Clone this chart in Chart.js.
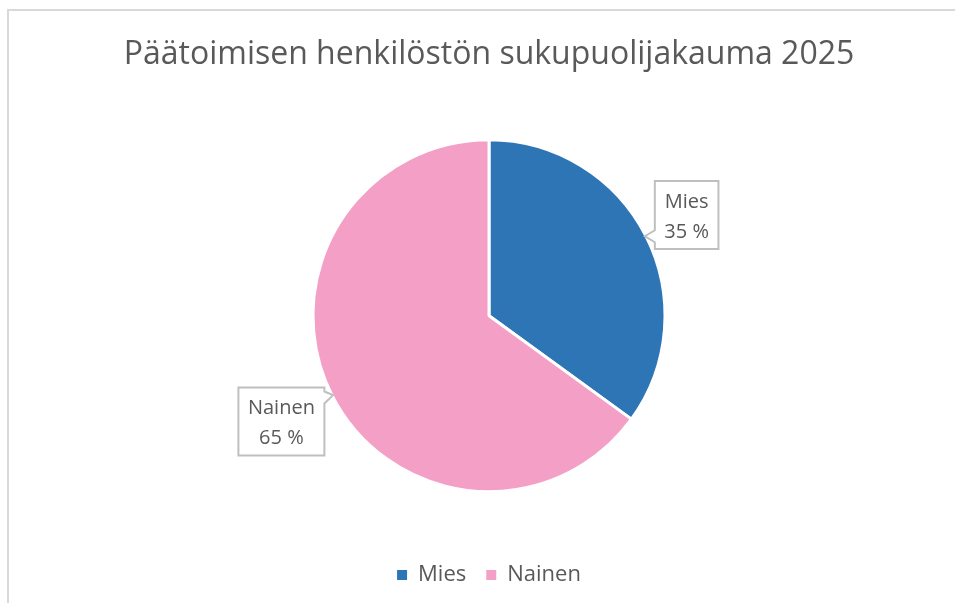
<!DOCTYPE html>
<html lang="fi">
<head>
<meta charset="UTF-8">
<title>Päätoimisen henkilöstön sukupuolijakauma 2025</title>
<script src="https://cdn.jsdelivr.net/npm/chart.js"></script>
<style>
    body { margin: 0; background: #fff; overflow: hidden; }
    .frame {
        position: absolute; left: 7px; top: 9px; width: 970px; height: 620px;
        border-left: 2px solid #d9d9d9; border-top: 2px solid #d9d9d9;
    }
    .wrap { position: absolute; left: 0; top: 0; width: 955px; height: 603px; }
</style>
</head>
<body>
<div class="frame"></div>
<div class="wrap"><canvas id="pie"></canvas></div>
<script>
const titleText = 'Päätoimisen henkilöstön sukupuolijakauma 2025';
const categories = ['Mies', 'Nainen'];
const shares = [35, 65];
const sliceColors = ['#2E75B6', '#F49FC6'];

const FONT = "'Open Sans', 'Noto Sans', sans-serif";
const GREY = '#595959';

// callout boxes like Excel data labels
const calloutPlugin = {
    id: 'callouts',
    afterDatasetsDraw(chart) {
        const ctx = chart.ctx;
        const total = shares.reduce((a, b) => a + b, 0);
        chart.getDatasetMeta(0).data.forEach((arc, i) => {
            const p = arc.getProps(['x', 'y', 'startAngle', 'endAngle', 'outerRadius'], true);
            const mid = (p.startAngle + p.endAngle) / 2;
            const lines = [categories[i], Math.round(shares[i] / total * 100) + ' %'];
            ctx.save();
            ctx.font = '20px ' + FONT;
            const w = Math.max(...lines.map(t => ctx.measureText(t).width)) + 19;
            const h = 68;
            const dist = p.outerRadius + 14 + w / 2;
            const cx = p.x + Math.cos(mid) * dist;
            const cy = p.y + Math.sin(mid) * dist;
            const left = cx - w / 2, top = cy - h / 2;
            const tipX = p.x + Math.cos(mid) * (p.outerRadius - 1);
            const tipY = p.y + Math.sin(mid) * (p.outerRadius - 1);
            const onLeft = tipX < left;
            const by = Math.min(Math.max(tipY, top + 10), top + h - 10);
            ctx.beginPath();
            ctx.moveTo(left, top);
            ctx.lineTo(left + w, top);
            if (!onLeft) {
                ctx.lineTo(left + w, by - 6);
                ctx.lineTo(tipX, tipY);
                ctx.lineTo(left + w, by + 6);
            }
            ctx.lineTo(left + w, top + h);
            ctx.lineTo(left, top + h);
            if (onLeft) {
                ctx.lineTo(left, by + 6);
                ctx.lineTo(tipX, tipY);
                ctx.lineTo(left, by - 6);
            }
            ctx.closePath();
            ctx.fillStyle = '#fff';
            ctx.fill();
            ctx.strokeStyle = '#bfbfbf';
            ctx.lineWidth = 2;
            ctx.stroke();
            ctx.fillStyle = GREY;
            ctx.textAlign = 'center';
            ctx.textBaseline = 'middle';
            ctx.fillText(lines[0], cx, cy - 13);
            ctx.fillText(lines[1], cx, cy + 17);
            ctx.restore();
        });
    }
};

new Chart(document.getElementById('pie'), {
    type: 'pie',
    data: {
        labels: categories,
        datasets: [{
            data: shares,
            backgroundColor: sliceColors,
            borderColor: '#fff',
            borderWidth: 3
        }]
    },
    options: {
        responsive: true,
        maintainAspectRatio: false,
        animation: false,
        radius: 176,
        layout: { padding: { left: 23, top: 0, right: 0, bottom: 7 } },
        plugins: {
            title: {
                display: true,
                text: titleText,
                color: GREY,
                font: { family: FONT, size: 32, weight: 'normal' },
                padding: { top: 36, bottom: 13 }
            },
            legend: {
                position: 'bottom',
                labels: {
                    color: GREY,
                    font: { family: FONT, size: 22 },
                    boxWidth: 10,
                    boxHeight: 10,
                    padding: 20,
                    generateLabels(chart) {
                        return Chart.overrides.pie.plugins.legend.labels.generateLabels(chart)
                            .map(l => ({ ...l, lineWidth: 0 }));
                    }
                }
            },
            tooltip: { enabled: false }
        }
    },
    plugins: [calloutPlugin]
});
</script>
</body>
</html>
